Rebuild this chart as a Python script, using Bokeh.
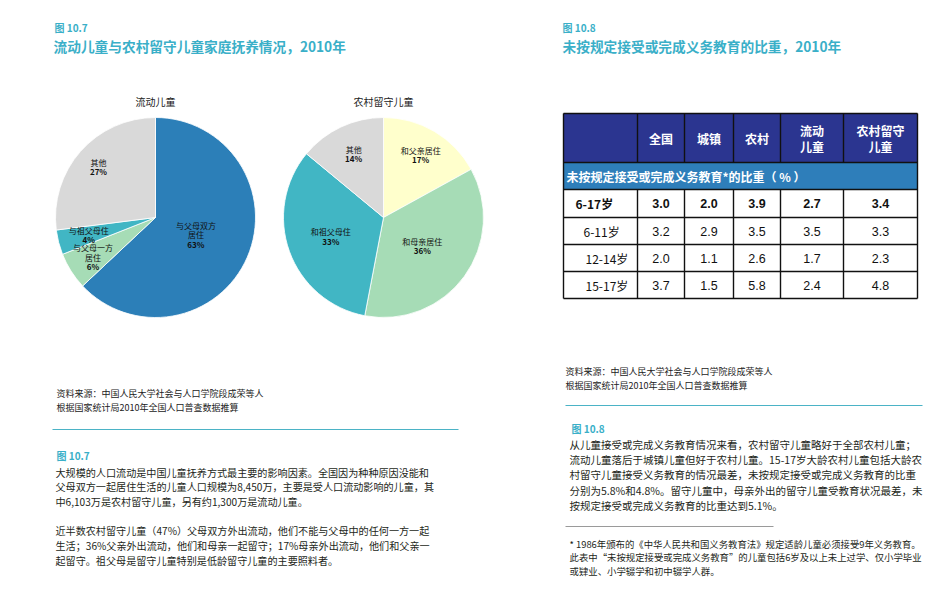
import numpy as np
from bokeh.plotting import figure
from bokeh.models import Range1d, ColumnDataSource
from bokeh.core.properties import value
from bokeh.embed import file_html
from bokeh.resources import INLINE

# ---------------- data ----------------
fig_left_no = "图 10.7"
fig_left_title = "流动儿童与农村留守儿童家庭抚养情况，2010年"
fig_right_no = "图 10.8"
fig_right_title = "未按规定接受或完成义务教育的比重，2010年"

pie1_title = "流动儿童"
pie1_labels = ["与父母双方\n居住", "与父母一方\n居住", "与祖父母住", "其他"]
pie1_values = [63, 6, 4, 27]

pie2_title = "农村留守儿童"
pie2_labels = ["和父亲居住", "和母亲居住", "和祖父母住", "其他"]
pie2_values = [17, 36, 33, 14]

table_columns = ["全国", "城镇", "农村", "流动\n儿童", "农村留守\n儿童"]
table_band = "未按规定接受或完成义务教育*的比重（ % ）"
row_labels = ["6-17岁", "6-11岁", "12-14岁", "15-17岁"]
val_national = [3.0, 3.2, 2.0, 3.7]
val_urban = [2.0, 2.9, 1.1, 1.5]
val_rural = [3.9, 3.5, 2.6, 5.8]
val_migrant = [2.7, 3.5, 1.7, 2.4]
val_leftbehind = [3.4, 3.3, 2.3, 4.8]

source_lines = ["资料来源：中国人民大学社会与人口学院段成荣等人",
                "根据国家统计局2010年全国人口普查数据推算"]

left_para1 = ["大规模的人口流动是中国儿童抚养方式最主要的影响因素。全国因为种种原因没能和",
              "父母双方一起居住生活的儿童人口规模为8,450万，主要是受人口流动影响的儿童，其",
              "中6,103万是农村留守儿童，另有约1,300万是流动儿童。"]
left_para2 = ["近半数农村留守儿童（47%）父母双方外出流动，他们不能与父母中的任何一方一起",
              "生活；36%父亲外出流动，他们和母亲一起留守；17%母亲外出流动，他们和父亲一",
              "起留守。祖父母是留守儿童特别是低龄留守儿童的主要照料者。"]
right_para = ["从儿童接受或完成义务教育情况来看，农村留守儿童略好于全部农村儿童；",
              "流动儿童落后于城镇儿童但好于农村儿童。15-17岁大龄农村儿童包括大龄农",
              "村留守儿童接受义务教育的情况最差，未按规定接受或完成义务教育的比重",
              "分别为5.8%和4.8%。留守儿童中，母亲外出的留守儿童受教育状况最差，未",
              "按规定接受或完成义务教育的比重达到5.1%。"]
footnote = ["* 1986年颁布的《中华人民共和国义务教育法》规定适龄儿童必须接受9年义务教育。",
            "此表中“未按规定接受或完成义务教育”的儿童包括6岁及以上未上过学、仅小学毕业",
            "或肄业、小学辍学和初中辍学人群。"]

# ---------------- styles ----------------
W, H = 936, 594
CJK = "Noto Sans CJK SC"
LAT = "Liberation Sans"
TEAL = "#3AAFC8"
TXT = "#231F20"
pie1_colors = ["#2C7FB8", "#A6DCB6", "#41B6C4", "#D9D9D9"]
pie2_colors = ["#FFFFCC", "#A6DCB6", "#41B6C4", "#D9D9D9"]
pie1_label_r = [0.44, 0.74, 0.69, 0.76]
pie2_label_r = [0.73, 0.48, 0.56, 0.70]

def Y(y):
    return H - y

p = figure(width=W, height=H, x_range=Range1d(0, W), y_range=Range1d(0, H),
           output_backend="svg", toolbar_location=None,
           x_axis_location=None, y_axis_location=None, min_border=0)
p.grid.visible = False
p.outline_line_color = None
p.background_fill_color = "white"
p.border_fill_color = "white"


def txt(x, y, s, size="10px", color=TXT, bold=False, align="left", font=CJK):
    p.text(x=[x], y=[Y(y)], text=[s], text_font=value(font),
           text_font_size=size, text_color=color,
           text_font_style="bold" if bold else "normal",
           text_align=align, text_baseline="middle")


def hline(x0, x1, y, color, width=1.0):
    p.segment(x0=[x0], y0=[Y(y)], x1=[x1], y1=[Y(y)], line_color=color, line_width=width)


# ---------------- titles ----------------
txt(54, 27, fig_left_no, "10px", TEAL, True)
txt(53, 45, fig_left_title, "13.7px", TEAL, True)
txt(562, 27, fig_right_no, "10px", TEAL, True)
txt(562, 45, fig_right_title, "13.7px", TEAL, True)

# ---------------- pies ----------------
def draw_pie(cx, cy, R, title, labels, values, colors, label_r):
    vals = np.array(values, dtype=float)
    cum = np.concatenate([[0.0], np.cumsum(vals)]) / vals.sum()
    start = np.pi / 2 - 2 * np.pi * cum[:-1]
    end = np.pi / 2 - 2 * np.pi * cum[1:]
    src = ColumnDataSource(dict(x=[cx] * len(vals), y=[Y(cy)] * len(vals),
                                start=start, end=end, color=colors))
    p.wedge(x="x", y="y", radius=R, start_angle="start", end_angle="end",
            direction="clock", fill_color="color", line_color="white",
            line_width=0.8, source=src)
    txt(cx, 101, title, "10px", "#222222", False, "center")
    mid = (cum[:-1] + cum[1:]) / 2
    theta = np.pi / 2 - 2 * np.pi * mid
    for i, (lab, v) in enumerate(zip(labels, values)):
        lx = cx + label_r[i] * R * np.cos(theta[i])
        ly = cy - label_r[i] * R * np.sin(theta[i])
        lines = lab.split("\n") + [f"{v}%"]
        n = len(lines)
        for j, s in enumerate(lines):
            yy = ly + (j - (n - 1) / 2) * 9.3
            txt(lx, yy, s, "8px", "#111111", j == n - 1, "center")


draw_pie(155, 217, 100, pie1_title, pie1_labels, pie1_values, pie1_colors, pie1_label_r)
draw_pie(383, 217, 100, pie2_title, pie2_labels, pie2_values, pie2_colors, pie2_label_r)

# ---------------- table ----------------
col_x = [563, 637, 684, 733, 780, 843, 917]
row_y = [113, 162, 189, 217, 244, 271, 298]
NAVY = "#2B3590"
BAND = "#2E7EBA"
p.quad(left=[col_x[0]], right=[col_x[-1]], top=[Y(row_y[0])], bottom=[Y(row_y[1])],
       fill_color=NAVY, line_color=None)
p.quad(left=[col_x[0]], right=[col_x[-1]], top=[Y(row_y[1])], bottom=[Y(row_y[2])],
       fill_color=BAND, line_color=None)

for yy in row_y:
    hline(col_x[0], col_x[-1], yy, "#111111", 1.4)
for k, xx in enumerate(col_x):
    if k == 0 or k == len(col_x) - 1:
        p.segment(x0=[xx], y0=[Y(row_y[0])], x1=[xx], y1=[Y(row_y[-1])],
                  line_color="#111111", line_width=1.4)
    else:
        p.segment(x0=[xx, xx], y0=[Y(row_y[0]), Y(row_y[2])],
                  x1=[xx, xx], y1=[Y(row_y[1]), Y(row_y[-1])],
                  line_color="#111111", line_width=1.4)

hdr_cy = (row_y[0] + row_y[1]) / 2
for k, name in enumerate(table_columns):
    cx = (col_x[k + 1] + col_x[k + 2]) / 2
    parts = name.split("\n")
    n = len(parts)
    for j, s in enumerate(parts):
        txt(cx, hdr_cy + (j - (n - 1) / 2) * 16, s, "12px", "white", True, "center")

txt(566, (row_y[1] + row_y[2]) / 2, table_band, "12px", "white", True)

columns_vals = [val_national, val_urban, val_rural, val_migrant, val_leftbehind]
label_x = [575, 583, 585, 585]
for r, lab in enumerate(row_labels):
    cy = (row_y[r + 3] + row_y[r + 2]) / 2
    bold = (r == 0)
    txt(label_x[r], cy, lab, "12px", "#111111", bold)
    for k, col in enumerate(columns_vals):
        cx = (col_x[k + 1] + col_x[k + 2]) / 2
        txt(cx, cy, f"{col[r]:.1f}", "12.5px", "#111111", bold, "center", LAT)

# ---------------- sources ----------------
for j, s in enumerate(source_lines):
    txt(56, 393 + j * 13.5, s, "9px", "#222222")
    txt(565, 371 + j * 13.5, s, "9px", "#222222")

hline(52, 458, 429, "#4BB3C6", 1.2)
hline(565, 922, 405, "#4BB3C6", 1.2)

# ---------------- paragraphs ----------------
txt(56, 455, fig_left_no, "10px", TEAL, True)
for j, s in enumerate(left_para1):
    txt(55, 471.5 + j * 14.6, s, "10.1px", TXT)
for j, s in enumerate(left_para2):
    txt(55, 530 + j * 15, s, "10.1px", TXT)

txt(571, 428, fig_right_no, "10px", TEAL, True)
for j, s in enumerate(right_para):
    txt(569, 444 + j * 15.2, s, "10.5px", TXT)

hline(565, 773, 526, "#9A9A9A", 1.0)
for j, s in enumerate(footnote):
    txt(569, 543 + j * 13.5, s, "9.4px", TXT)

open("out.html", "w").write(file_html(p, INLINE))
